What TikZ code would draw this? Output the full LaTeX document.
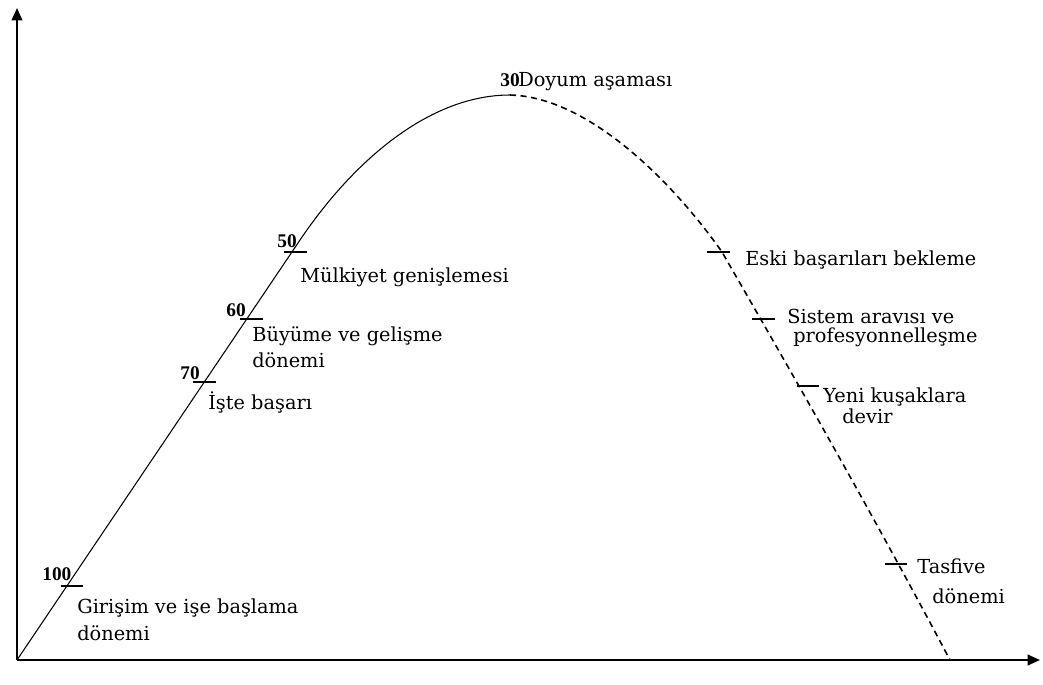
\documentclass[tikz,border=0pt]{standalone}
\usepackage{fontspec}
\setmainfont{DejaVu Serif}
\newfontfamily\numfont{Liberation Serif}
\usetikzlibrary{arrows.meta}
\tikzset{
  lbl/.style={anchor=base west, inner sep=0pt, font=\fontsize{11}{13}\selectfont},
  num/.style={anchor=base west, inner sep=0pt, font=\numfont\bfseries\fontsize{11}{13}\selectfont},
  axis/.style={line width=1.2pt, -{Triangle[length=7pt,width=6pt]}},
  tick/.style={line width=0.6pt},
}
\begin{document}
\begin{tikzpicture}[x=0.02cm,y=-0.02cm]
  \useasboundingbox (0,0) rectangle (1043,684);

  \coordinate (o) at (17,660);
  \coordinate (ytop) at (17,8);
  \coordinate (xend) at (1040,660);
  \coordinate (peak) at (510,95);
  \draw[axis] (o) -- (ytop);
  \draw[axis] (o) -- (xend);

  % rising part
  \draw[line width=0.6pt] (o) -- (300,240) .. controls (354,160) and (430,95) .. (peak);
  % falling part
  \draw[line width=0.9pt, dash pattern=on 3.5pt off 2.5pt] (peak) .. controls (590,97) and (675,185) .. (722,252)
        .. controls (760,318) and (860,490) .. (950,660);

  \draw[tick] (61,586) -- (83,586);
  \draw[tick] (193,382) -- (216,382);
  \draw[tick] (240,319) -- (263,319);
  \draw[tick] (284,252) -- (307,252);
  \draw[tick] (707,252) -- (730,252);
  \draw[tick] (752,319) -- (775,319);
  \draw[tick] (797,386) -- (819,386);
  \draw[tick] (885,564) -- (907,564);

  \node[num] (n100) at (42,580) {100};
  \node[num] (n70) at (180,379) {70};
  \node[num] (n60) at (226,316) {60};
  \node[num] (n50) at (277,247) {50};
  \node[num] (n30) at (500,86) {30};

  \node[lbl] (girisim) at (77,613) {Girişim ve işe başlama};
  \node[lbl] (girisim2) at (77,640) {dönemi};
  \node[lbl] (iste) at (208,409) {İşte başarı};
  \node[lbl] (buyume) at (252,341) {Büyüme ve gelişme};
  \node[lbl] (buyume2) at (252,367) {dönemi};
  \node[lbl] (mulkiyet) at (300,282) {Mülkiyet genişlemesi};
  \node[lbl] (doyum) at (518,86) {Doyum aşaması};
  \node[lbl] (eski) at (745,265) {Eski başarıları bekleme};
  \node[lbl] (sistem) at (787,323) {Sistem aravısı ve};
  \node[lbl] (sistem2) at (793,342) {profesyonnelleşme};
  \node[lbl] (yeni) at (823,402) {Yeni kuşaklara};
  \node[lbl] (yeni2) at (842,423) {devir};
  \node[lbl] (tasfiye) at (917,573) {Tasfive};
  \node[lbl] (tasfiye2) at (932,603) {dönemi};
\end{tikzpicture}
\end{document}
